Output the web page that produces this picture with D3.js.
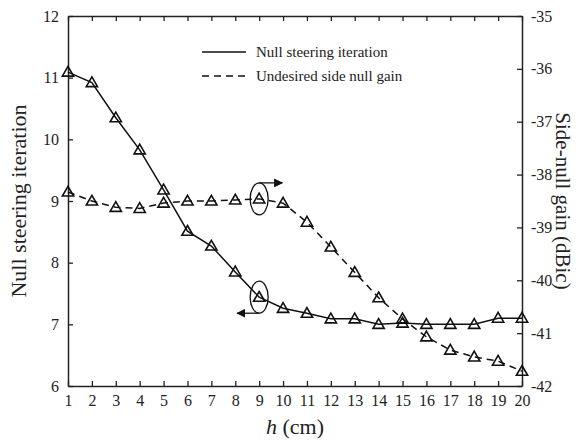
<!DOCTYPE html>
<html>
<head>
<meta charset="utf-8">
<script src="https://cdn.jsdelivr.net/npm/d3@7"></script>
<style>
  body { margin: 0; background: #fff; }
  svg { font-family: "Liberation Serif", "Times New Roman", serif; }
</style>
</head>
<body>
<svg id="chart" width="579" height="441"></svg>
<script>
// h in cm
var hValues = [1,2,3,4,5,6,7,8,9,10,11,12,13,14,15,16,17,18,19,20]
// null steering iteration (left axis)
var iterations = [11.09,10.92,10.35,9.83,9.18,8.51,8.27,7.85,7.44,7.26,7.18,7.09,7.09,7.0,7.02,7.0,7.0,7.0,7.1,7.1]
// undesired side null gain, dBic (right axis)
var sideNullGain = [-38.33,-38.5,-38.62,-38.64,-38.54,-38.5,-38.5,-38.48,-38.46,-38.54,-38.9,-39.37,-39.85,-40.33,-40.73,-41.07,-41.32,-41.45,-41.53,-41.72]
var leftTicks = [6,7,8,9,10,11,12]
var rightTicks = [-42,-41,-40,-39,-38,-37,-36,-35]
var legendLabels = ["Null steering iteration", "Undesired side null gain"]

var dimensions = {
    width: 579,
    height: 441,
    margin: { top: 16, bottom: 55, right: 57, left: 68 }
}
var svg = d3.select("#chart")

var x0 = dimensions.margin.left,
    x1 = dimensions.width - dimensions.margin.right,
    y0 = dimensions.height - dimensions.margin.bottom,
    y1 = dimensions.margin.top

var xScale = d3.scaleLinear().domain([1, 20]).range([x0, x1])
var yLeft = d3.scaleLinear().domain([6, 12]).range([y0, y1])
var yRight = d3.scaleLinear().domain([-42, -35]).range([y0, y1])

// axes, ticks pointing inward
var xAxisgen = d3.axisBottom(xScale).tickValues(hValues).tickSizeInner(-5).tickSizeOuter(0).tickPadding(9)
var xTopgen = d3.axisTop(xScale).tickValues(hValues).tickSizeInner(-5).tickSizeOuter(0).tickFormat("")
var yLeftgen = d3.axisLeft(yLeft).tickValues(leftTicks).tickFormat(d3.format("d"))
    .tickSizeInner(-5).tickSizeOuter(0).tickPadding(9)
var yRightgen = d3.axisRight(yRight).tickValues(rightTicks).tickFormat(d => "-" + Math.abs(d))
    .tickSizeInner(-5).tickSizeOuter(0).tickPadding(9)

svg.append("g").attr("transform", `translate(0,${y0})`).call(xAxisgen)
svg.append("g").attr("transform", `translate(0,${y1})`).call(xTopgen)
svg.append("g").attr("transform", `translate(${x0},0)`).call(yLeftgen)
svg.append("g").attr("transform", `translate(${x1},0)`).call(yRightgen)

svg.selectAll(".domain").attr("stroke", "#222").attr("stroke-width", 1.5)
svg.selectAll(".tick line").attr("stroke", "#222").attr("stroke-width", 1.3)
svg.selectAll(".tick text").attr("font-family", "Liberation Serif, serif").attr("font-size", 16).attr("fill", "#222")

// series lines
var lineLeft = d3.line().x((d, i) => xScale(hValues[i])).y(d => yLeft(d))
var lineRight = d3.line().x((d, i) => xScale(hValues[i])).y(d => yRight(d))

svg.append("path").datum(iterations).attr("d", lineLeft)
    .attr("fill", "none").attr("stroke", "#111").attr("stroke-width", 1.5)
svg.append("path").datum(sideNullGain).attr("d", lineRight)
    .attr("fill", "none").attr("stroke", "#111").attr("stroke-width", 1.5)
    .attr("stroke-dasharray", "7,5")

var tri = d3.symbol().type(d3.symbolTriangle).size(55)
svg.selectAll(".m1").data(iterations).enter().append("path")
    .attr("transform", (d, i) => `translate(${xScale(hValues[i])},${yLeft(d) + 0.8})`)
    .attr("d", tri).attr("fill", "none").attr("stroke", "#111").attr("stroke-width", 1.6)
svg.selectAll(".m2").data(sideNullGain).enter().append("path")
    .attr("transform", (d, i) => `translate(${xScale(hValues[i])},${yRight(d) + 0.8})`)
    .attr("d", tri).attr("fill", "none").attr("stroke", "#111").attr("stroke-width", 1.6)

// annotations: ellipses with arrows at h = 9
svg.append("defs").append("marker").attr("id", "arr")
    .attr("viewBox", "0 0 10 10").attr("refX", 9).attr("refY", 5)
    .attr("markerWidth", 9).attr("markerHeight", 9).attr("orient", "auto-start-reverse")
    .attr("markerUnits", "userSpaceOnUse")
    .append("path").attr("d", "M0,0L10,5L0,10z").attr("fill", "#111")

var ex = xScale(9)
var eyR = yRight(sideNullGain[8]), eyL = yLeft(iterations[8])
svg.append("ellipse").attr("cx", ex).attr("cy", eyR).attr("rx", 9).attr("ry", 16)
    .attr("fill", "none").attr("stroke", "#111").attr("stroke-width", 1.3)
svg.append("path").attr("d", `M${ex},${eyR - 16}L${ex + 23},${eyR - 16}`)
    .attr("stroke", "#111").attr("stroke-width", 1.3).attr("marker-end", "url(#arr)")
svg.append("ellipse").attr("cx", ex).attr("cy", eyL).attr("rx", 9).attr("ry", 16)
    .attr("fill", "none").attr("stroke", "#111").attr("stroke-width", 1.3)
svg.append("path").attr("d", `M${ex},${eyL + 16}L${ex - 22},${eyL + 16}`)
    .attr("stroke", "#111").attr("stroke-width", 1.3).attr("marker-end", "url(#arr)")

// legend
var legend = svg.append("g").attr("transform", "translate(202,52)")
legendLabels.forEach(function (lbl, i) {
    legend.append("line").attr("x1", 0).attr("x2", 44).attr("y1", i * 24).attr("y2", i * 24)
        .attr("stroke", "#111").attr("stroke-width", 1.5)
        .attr("stroke-dasharray", i == 1 ? "7,5" : null)
    legend.append("text").attr("x", 54).attr("y", i * 24 + 5)
        .attr("font-size", 15).attr("fill", "#222").text(lbl)
})

// axis titles
var xt = svg.append("text").attr("x", (x0 + x1) / 2).attr("y", 434)
    .attr("text-anchor", "middle").attr("font-size", 22).attr("fill", "#222")
xt.append("tspan").attr("font-style", "italic").text("h")
xt.append("tspan").text(" (cm)")

svg.append("text").attr("transform", `translate(26,${(y0 + y1) / 2}) rotate(-90)`)
    .attr("text-anchor", "middle").attr("font-size", 22).attr("fill", "#222")
    .text("Null steering iteration")
svg.append("text").attr("transform", `translate(556,${(y0 + y1) / 2}) rotate(90)`)
    .attr("text-anchor", "middle").attr("font-size", 21).attr("fill", "#222")
    .text("Side-null gain (dBic)")
</script>
</body>
</html>
